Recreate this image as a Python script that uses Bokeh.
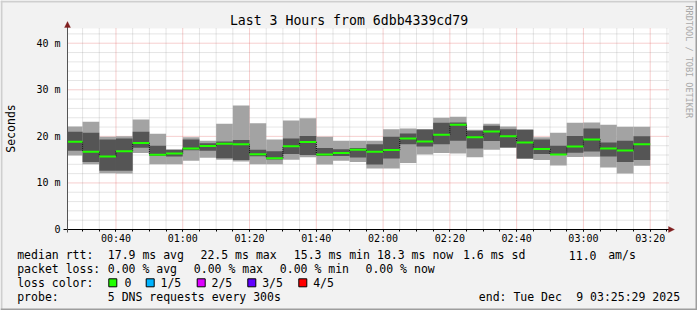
import math
from bokeh.plotting import figure
from bokeh.models import (Range1d, FixedTicker, Label, BoxAnnotation,
                          PolyAnnotation, LinearAxis, ColumnDataSource)
from bokeh.embed import file_html
from bokeh.resources import INLINE

# ---------------- data ----------------
title_text = "Last 3 Hours from 6dbb4339cd79"
bar_start = ["00:25", "00:30", "00:35", "00:40", "00:45", "00:50", "00:55",
             "01:00", "01:05", "01:10", "01:15", "01:20", "01:25", "01:30",
             "01:35", "01:40", "01:45", "01:50", "01:55", "02:00", "02:05",
             "02:10", "02:15", "02:20", "02:25", "02:30", "02:35", "02:40",
             "02:45", "02:50", "02:55", "03:00", "03:05", "03:10", "03:15"]
ping_max = [22.1, 23.15, 19.9, 20.0, 23.6, 20.55, 17.2, 19.8, 19.05, 22.7,
            26.6, 22.8, 19.3, 23.4, 23.9, 19.9, 19.05, 19.05, 19.05, 21.5,
            21.7, 21.5, 24.0, 24.2, 21.4, 22.7, 22.1, 21.45, 19.8, 20.8,
            22.9, 23.0, 22.5, 22.05, 22.05]
ping_q3 = [21.0, 20.8, 19.35, 19.55, 21.0, 18.0, 17.1, 19.35, 18.5, 18.9,
           19.2, 17.1, 16.8, 19.55, 20.1, 17.5, 17.25, 17.5, 18.3, 19.9,
           20.6, 21.45, 22.9, 23.0, 21.2, 22.3, 21.5, 21.4, 19.3, 18.0,
           20.1, 21.7, 18.7, 19.05, 20.0]
median = [18.85, 16.7, 15.7, 16.8, 18.6, 16.05, 16.3, 17.4, 17.95, 18.4,
          18.3, 16.15, 15.3, 17.9, 18.8, 16.1, 16.4, 17.1, 16.7, 17.05,
          19.55, 18.9, 20.35, 22.5, 19.8, 21.05, 20.05, 18.7, 17.3, 16.1,
          17.8, 19.35, 17.4, 16.95, 18.3]
ping_q1 = [16.9, 14.5, 12.6, 12.6, 17.55, 15.8, 15.7, 17.0, 16.9, 15.3,
           14.9, 15.75, 15.05, 16.2, 16.0, 15.8, 15.8, 15.45, 13.95, 15.25,
           18.3, 17.8, 18.3, 19.05, 17.4, 19.0, 17.6, 15.25, 16.2, 16.0,
           16.5, 16.75, 15.7, 14.5, 14.95]
ping_min = [15.9, 14.0, 12.1, 12.05, 16.45, 14.0, 14.0, 14.75, 15.4, 15.0,
            14.6, 14.0, 14.0, 15.0, 15.5, 13.95, 14.75, 14.5, 13.1, 13.1,
            14.3, 16.1, 16.4, 16.3, 15.5, 17.1, 17.55, 15.2, 14.9, 13.75,
            15.55, 15.6, 13.3, 12.0, 13.7]
step_minutes = 5
x_tick_labels = ["00:40", "01:00", "01:20", "01:40", "02:00", "02:20",
                 "02:40", "03:00", "03:20"]
y_tick_values = [0, 10, 20, 30, 40]
y_tick_labels = ["0", "10 m", "20 m", "30 m", "40 m"]
y_minor_step = 2
stats_rtt = ["17.9 ms avg", "22.5 ms max", "15.3 ms min", "18.3 ms now",
             "1.6 ms sd", "11.0", "am/s"]
stats_loss = ["0.00 % avg", "0.00 % max", "0.00 % min", "0.00 % now"]
loss_labels = ["0", "1/5", "2/5", "3/5", "4/5"]
loss_colors = ["#22FF00", "#00B4FF", "#DD00FF", "#6000FF", "#FF0000"]
probe_text = "5 DNS requests every 300s"
end_text = ["end: Tue Dec", "9 03:25:29 2025"]


def to_min(s):
    h, m = s.split(":")
    return int(h) * 60 + int(m)


# ---------------- layout ----------------
W, H = 697, 310
FL, FR, FT, FB = 67, 668, 28, 229          # plot area in pixels
XMIN = to_min("00:25") + 29 / 60.0
XMAX = XMIN + 180
YMAX = 43.16
KX = (XMAX - XMIN) / (FR - FL)             # minutes per pixel
KY = YMAX / (FB - FT)                      # ms per pixel


def dx(px):
    return XMIN + (px - FL) * KX


def dy(py):
    return (FB - py) * KY


FONT = "DejaVu Sans Mono"

p = figure(width=W, height=H, output_backend="svg", toolbar_location=None,
           x_range=Range1d(dx(0), dx(W)), y_range=Range1d(dy(H), dy(0)),
           x_axis_type=None, y_axis_type=None,
           min_border=0, min_border_left=0, min_border_right=0,
           min_border_top=0, min_border_bottom=0)
p.background_fill_color = "#F2F2F2"
p.border_fill_color = "#F2F2F2"
p.outline_line_color = None

# plot canvas (white)
p.quad(left=[XMIN], right=[XMAX], bottom=[0], top=[YMAX],
       fill_color="white", line_color=None)

# grid (below the smoke)
xt = [to_min(s) for s in x_tick_labels]
x_minor = [t for t in range(30, int(XMAX) + 1, step_minutes) if t not in xt]
y_minor = [v for v in range(y_minor_step, int(YMAX) + 1, y_minor_step)
           if v not in y_tick_values]
p.segment(x0=x_minor, x1=x_minor, y0=0, y1=YMAX,
          line_color="#8F8F8F", line_alpha=0.45, line_width=1, line_dash="1 1")
p.segment(x0=XMIN, x1=XMAX, y0=y_minor, y1=y_minor,
          line_color="#8F8F8F", line_alpha=0.45, line_width=1, line_dash="1 1")
p.segment(x0=xt, x1=xt, y0=0, y1=YMAX,
          line_color="#DE4F4F", line_alpha=0.55, line_width=1, line_dash="1 1")
p.segment(x0=XMIN, x1=XMAX, y0=y_tick_values[1:], y1=y_tick_values[1:],
          line_color="#DE4F4F", line_alpha=0.55, line_width=1, line_dash="1 1")

x0 = [to_min(s) for s in bar_start]
x1 = [v + step_minutes for v in x0]
x0c = [max(v, XMIN) for v in x0]
src = ColumnDataSource(dict(x0=x0c, x1=x1, hi=ping_max, q3=ping_q3,
                            med=median, q1=ping_q1, lo=ping_min))

p.quad(left="x0", right="x1", bottom="lo", top="hi", source=src,
       fill_color="#A3A3A3", line_color=None)
p.quad(left="x0", right="x1", bottom="q1", top="q3", source=src,
       fill_color="#555555", line_color=None)

# median line with step connectors
p.segment(x0=x1[:-1], x1=x1[:-1], y0=median[:-1], y1=median[1:],
          line_color="black", line_width=1, line_dash="1 1")
p.segment(x0="x0", x1="x1", y0="med", y1="med", source=src,
          line_color=loss_colors[0], line_width=2)

# axes (fixed at the plot-area edges)
yax = LinearAxis(fixed_location=XMIN,
                 ticker=FixedTicker(ticks=y_tick_values, minor_ticks=[]),
                 major_label_overrides={v: s for v, s in zip(y_tick_values, y_tick_labels)},
                 bounds=(dy(FB + 3), dy(22)))
yax.axis_line_color = "#555555"
yax.major_tick_line_color = None
yax.minor_tick_line_color = None
yax.major_tick_out = 0
yax.major_tick_in = 0
yax.major_label_standoff = 7
xax = LinearAxis(fixed_location=0,
                 ticker=FixedTicker(ticks=xt, minor_ticks=list(range(30, int(XMAX) + 1, step_minutes))),
                 major_label_overrides={v: s for v, s in zip(xt, x_tick_labels)},
                 bounds=(dx(FL - 4), dx(672)))
xax.axis_line_color = "black"
xax.major_tick_in = 0
xax.major_tick_out = 2
xax.minor_tick_in = 0
xax.minor_tick_out = 2
xax.major_tick_line_color = "black"
xax.minor_tick_line_color = "black"
xax.major_label_standoff = 1
for ax in (xax, yax):
    ax.major_label_text_font = FONT
    ax.major_label_text_font_size = "10px"
    ax.major_label_text_color = "black"
p.add_layout(yax, "left")
p.add_layout(xax, "below")

# arrow heads
p.add_layout(PolyAnnotation(xs=[FL - 3, FL + 3, FL], ys=[H - 27, H - 27, H - 21],
                            xs_units="screen", ys_units="screen",
                            fill_color="#801F1F", fill_alpha=1.0,
                            line_color="#801F1F"))
p.add_layout(PolyAnnotation(xs=[668, 668, 674], ys=[H - 226, H - 232, H - 229],
                            xs_units="screen", ys_units="screen",
                            fill_color="#801F1F", fill_alpha=1.0,
                            line_color="#801F1F"))


def text(s, px, py, size="11.5px", align="left", angle=0.0, color="black",
         baseline="middle"):
    p.add_layout(Label(x=px, y=H - py, x_units="screen", y_units="screen",
                       text=s, text_font=FONT,
                       text_font_size=size, text_align=align,
                       text_baseline=baseline, angle=angle,
                       text_color=color))


text(title_text, 348.5, 20, size="13.2px", align="center")
text("Seconds", 10.5, 128, align="center", angle=math.pi / 2)
text("RRDTOOL / TOBI OETIKER", 688.5, 5, size="8.5px", align="left",
     angle=-math.pi / 2, color="#A8A8A8")

# legend rows
LX = 16.7
rows_y = [254.7, 268.0, 282.3, 296.0]
text("median rtt:", LX, rows_y[0])
for s, px in zip(stats_rtt, [107.3, 200.0, 293.3, 376.5, 462.5, 568.3, 607.7]):
    text(s, px, rows_y[0])
text("packet loss:", LX, rows_y[1])
for s, px in zip(stats_loss, [107.3, 193.3, 279.3, 365.0]):
    text(s, px, rows_y[1])
text("loss color:", LX, rows_y[2])
for lab, tx in zip(loss_labels, [124.0, 160.0, 211.0, 261.7, 312.7]):
    text(lab, tx, rows_y[2])
text("probe:", LX, rows_y[3])
text(probe_text, 107.3, rows_y[3])
text(end_text[0], 478.3, rows_y[3])
text(end_text[1], 575.7, rows_y[3])

# legend swatches
for col, bx in zip(loss_colors, [108.3, 145.7, 196.7, 247.3, 298.3]):
    p.add_layout(BoxAnnotation(left=bx, right=bx + 8,
                               top=H - 278.3, bottom=H - 286.3,
                               left_units="screen", right_units="screen",
                               top_units="screen", bottom_units="screen",
                               fill_color=col, fill_alpha=1.0,
                               line_color="black", line_width=1,
                               line_alpha=1.0))
# 3D frame of the image
for l, r, t, b, c in [(0, W, 0, 2, "#CFCFCF"), (0, 2, 0, H, "#CFCFCF"),
                      (0, W, H - 2, H, "#9E9E9E"), (W - 2, W, 0, H, "#9E9E9E")]:
    p.add_layout(BoxAnnotation(left=l, right=r, top=H - t, bottom=H - b,
                               left_units="screen", right_units="screen",
                               top_units="screen", bottom_units="screen",
                               fill_color=c, fill_alpha=1.0, line_color=None))

open("out.html", "w").write(file_html(p, INLINE))
